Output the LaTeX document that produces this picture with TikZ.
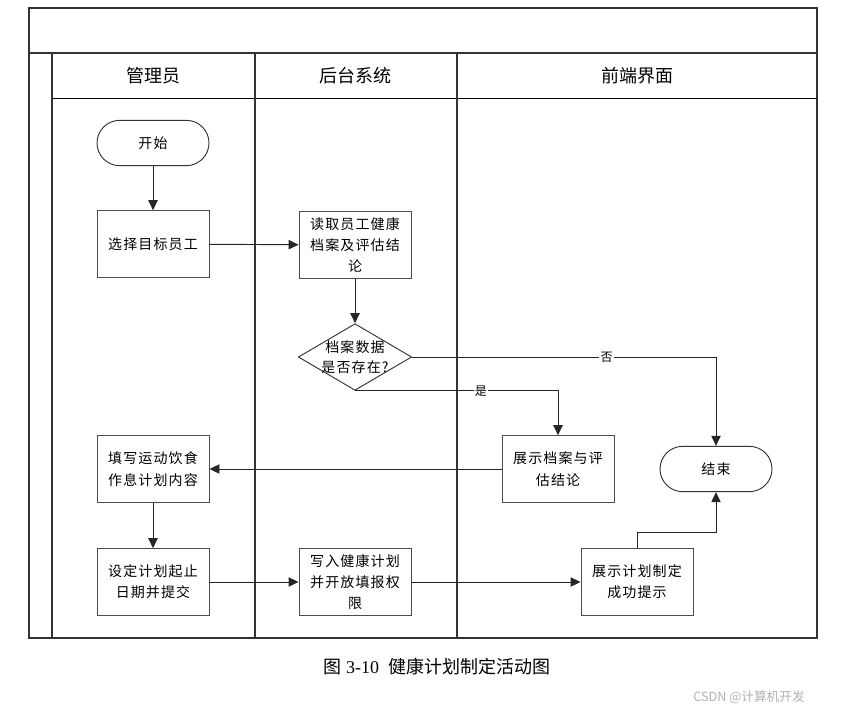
\documentclass[tikz,border=0pt]{standalone}
\usepackage{fontspec}
\setmainfont{Noto Sans CJK SC}
\newfontfamily\boxfont[LetterSpace=8]{Noto Sans CJK SC}
\newfontfamily\numfont{Liberation Serif}
\usetikzlibrary{arrows.meta,shapes.geometric}

\begin{document}
\begin{tikzpicture}[x=0.75pt,y=-0.75pt,
        lane/.style={draw=black!80, line width=0.8pt},
        act/.style={draw=black!70, line width=0.7pt, minimum width=84pt, minimum height=50pt,
            inner sep=1pt, align=center, font=\boxfont\fontsize{10.5}{16}\selectfont},
        term/.style={draw=black!80, line width=0.7pt, minimum width=84pt, minimum height=34pt,
            rounded corners=17pt, font=\boxfont\fontsize{10.5}{16}\selectfont},
        decision/.style={draw=black!80, line width=0.7pt, diamond, minimum width=85pt,
            minimum height=50pt, inner sep=0pt},
        arr/.style={draw=black!85, line width=0.7pt, -{Triangle[length=7.5pt,width=7pt]}},
        head/.style={font=\fontsize{13.5}{16}\selectfont},
        cond/.style={fill=white, inner sep=1pt, font=\fontsize{9}{10}\selectfont}]
        \useasboundingbox (0,0) rectangle (849,714);
        % Draw swimlane frame
        \draw[lane] (29,8) rectangle (817,638);
        \draw[lane] (29,53) -- (817,53);
        \draw[lane] (52,53) -- (52,638);
        \draw[line width=0.7pt] (52,98) -- (817,98);
        \foreach \x in {255,457} \draw[lane] (\x,53) -- (\x,638);
        % Lane titles
        \node[head] (h1) at (153,76) {管理员};
        \node[head] (h2) at (355,76) {后台系统};
        \node[head] (h3) at (637,76) {前端界面};
        % Activities
        \node[term] (start) at (153,143) {开始};
        \node[act] (pick) at (153,244) {选择目标员工};
        \node[act] (read) at (355,245) {读取员工健康\\档案及评估结\\论};
        \node[decision] (chk) at (355,357) {};
        \node[align=center, font=\boxfont\fontsize{10.5}{15}\selectfont] (chktext) at (chk) {档案数据\\是否存在?};
        \node[act] (show) at (558,469) {展示档案与评\\估结论};
        \node[term] (end) at (716,469) {结束};
        \node[act] (fill) at (153,469) {填写运动饮食\\作息计划内容};
        \node[act] (set) at (153,582) {设定计划起止\\日期并提交};
        \node[act] (write) at (355,582) {写入健康计划\\并开放填报权\\限};
        \node[act] (tip) at (637,582) {展示计划制定\\成功提示};
        \coordinate (bend) at (716,532);
        % Connectors
        \draw[arr] (start) -- (pick);
        \draw[arr] (pick) -- (read);
        \draw[arr] (read) -- (chk);
        \draw[arr] (chk.east) -| node[cond, pos=0.32] {否} (end);
        \draw[arr] (chk.south) -| node[cond, pos=0.31] {是} (show);
        \draw[arr] (show) -- (fill);
        \draw[arr] (fill) -- (set);
        \draw[arr] (set) -- (write);
        \draw[arr] (write) -- (tip);
        \draw[arr] (tip.north) |- (bend) -- (end);
        % Caption
        \node[font=\fontsize{13.5}{15}\selectfont] (cap) at (437,667) {图 {\numfont 3-10}\enspace 健康计划制定活动图};
        \node[text=black!30, font=\fontsize{9.5}{11}\selectfont] (mark) at (749,697) {CSDN @计算机开发};
\end{tikzpicture}
\end{document}
